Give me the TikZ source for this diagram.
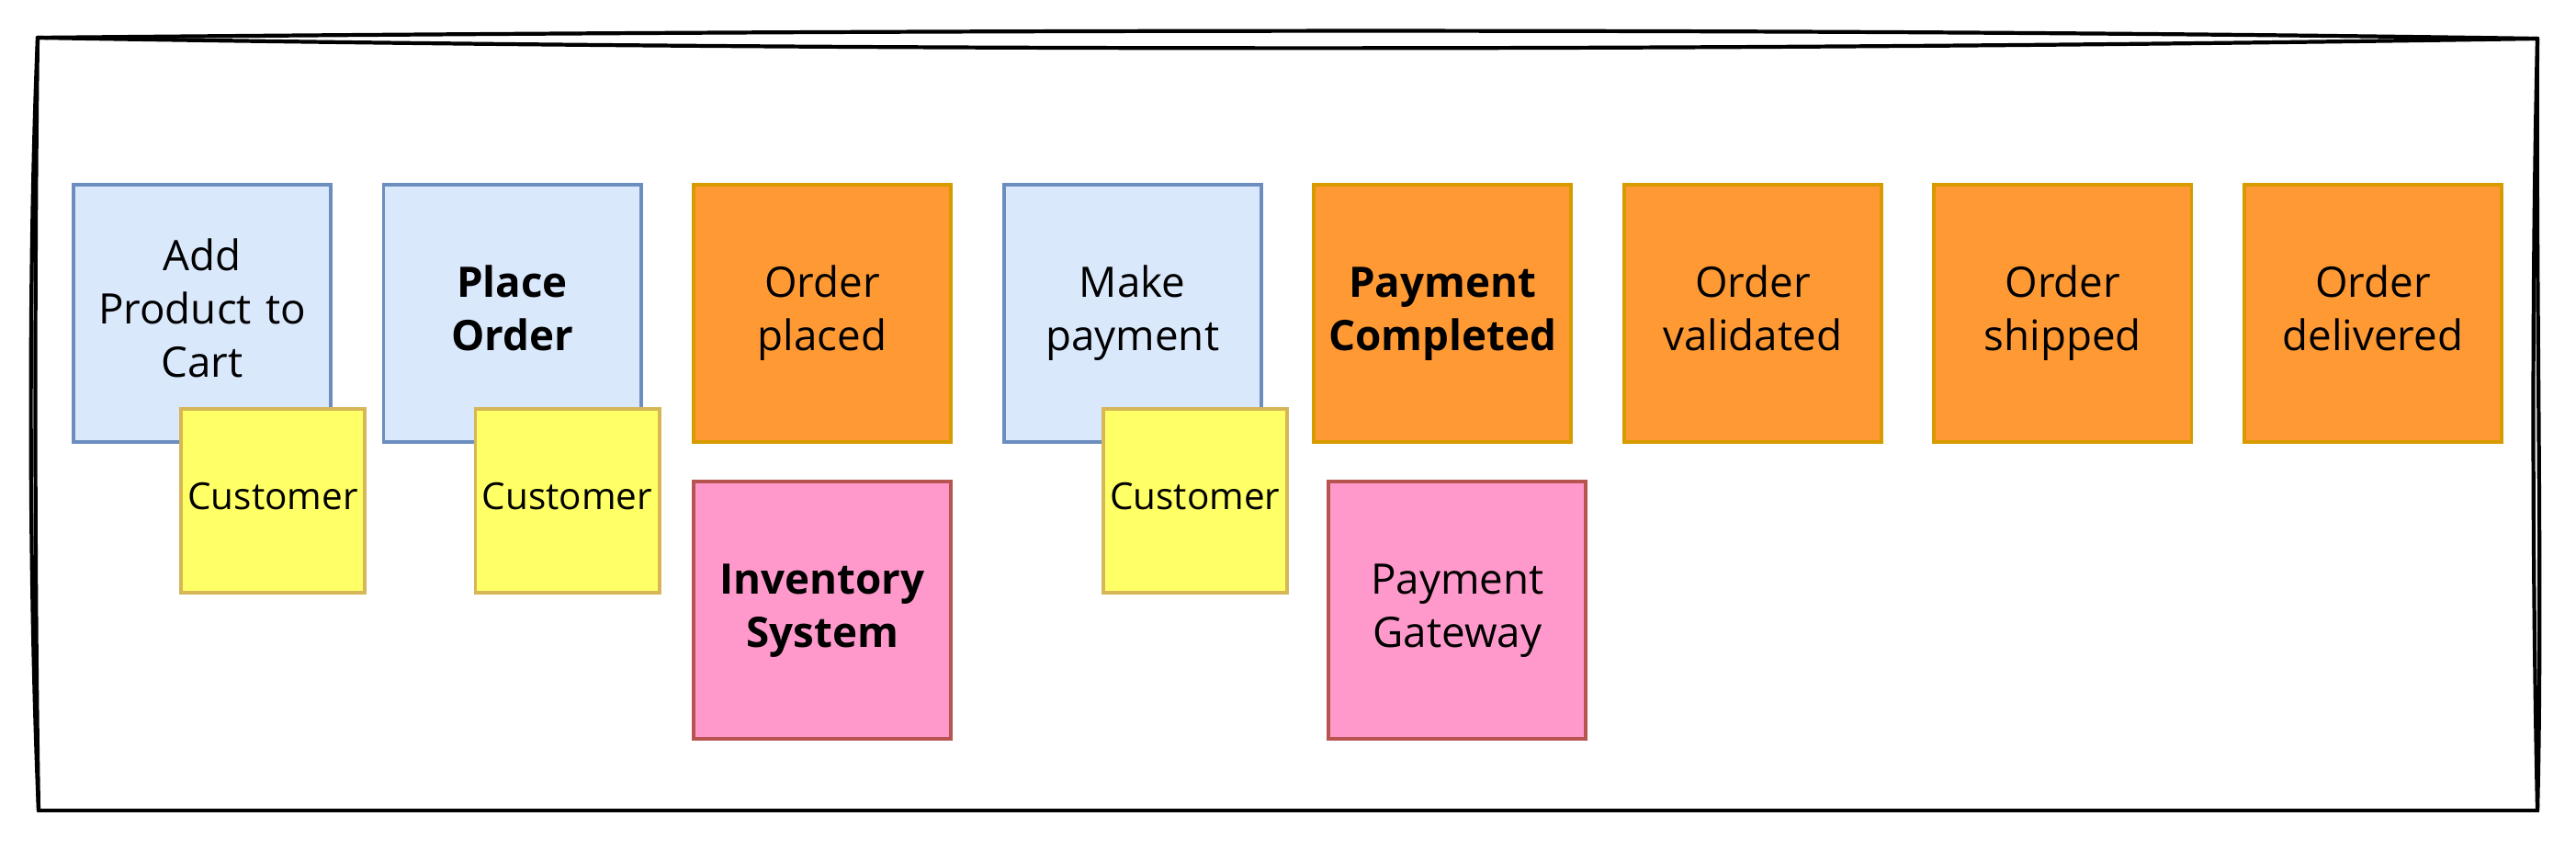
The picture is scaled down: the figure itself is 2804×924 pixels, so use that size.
\documentclass[tikz,border=0pt]{standalone}
\usepackage{fontspec}
\setmainfont{Open Sans}
\usepackage{xcolor}
\usetikzlibrary{positioning, calc}

\definecolor{cmdfill}{HTML}{DAE8FC}
\definecolor{cmdline}{HTML}{6C8EBF}
\definecolor{evtfill}{HTML}{FF9933}
\definecolor{evtline}{HTML}{D79B00}
\definecolor{actfill}{HTML}{FFFF66}
\definecolor{actline}{HTML}{D6B656}
\definecolor{sysfill}{HTML}{FF99CC}
\definecolor{sysline}{HTML}{B85450}

\begin{document}
\begin{tikzpicture}[x=0.01cm, y=-0.01cm, node distance=0.535cm,
    every node/.style={draw, line width=1.1pt, inner sep=0pt, align=center,
        font=\fontsize{13}{16.5}\selectfont,
        execute at begin node=\strut, execute at end node=\strut},
    strong/.style={font=\fontsize{13}{16.5}\selectfont\bfseries},
    card/.style={minimum size=2.8cm, text width=2.5cm},
    cmd/.style={card, fill=cmdfill, draw=cmdline},
    evt/.style={card, fill=evtfill, draw=evtline},
    sys/.style={card, fill=sysfill, draw=sysline},
    actor/.style={minimum size=2cm, fill=actfill, draw=actline,
        font=\fontsize{11.5}{14}\selectfont, anchor=north west},
    sketch/.style={line width=1.2pt, line cap=round, line join=round}]
    \useasboundingbox (0,0) rectangle (2804,924);

    % hand drawn frame
    \draw[sketch] (41,41) .. controls (900,33) and (1900,29) .. (2762,42);
    \draw[sketch] (41,41) .. controls (900,56) and (1900,56) .. (2762,42);
    \draw[sketch] (2762,42) .. controls (2756,300) and (2756,600) .. (2762,882);
    \draw[sketch] (2762,42) .. controls (2760,300) and (2768,650) .. (2762,882);
    \draw[sketch] (2762,882) -- (42,882);
    \draw[sketch] (42,882) .. controls (30,600) and (32,250) .. (41,41);
    \draw[sketch] (42,882) .. controls (37,600) and (38,250) .. (41,41);

    % timeline
    \node[cmd] (add) at (220,341) {Add\\Product to\\Cart};
    \node[cmd, strong, right=of add] (place) {Place\\Order};
    \node[evt, right=of place] (placed) {Order\\placed};
    \node[cmd, right=of placed] (pay) {Make\\payment};
    \node[evt, strong, right=of pay] (paid) {Payment\\Completed};
    \node[evt, right=of paid] (valid) {Order\\validated};
    \node[evt, right=of valid] (shipped) {Order\\shipped};
    \node[evt, right=of shipped] (delivered) {Order\\delivered};

    % actors and systems
    \node[actor] (who1) at ($(add.south west)+(117,-40)$) {Customer};
    \node[actor] (who2) at ($(place.south west)+(100,-40)$) {Customer};
    \node[actor] (who3) at ($(pay.south west)+(108,-40)$) {Customer};
    \node[sys, strong, below=0.39cm of placed] (inventory) {Inventory\\System};
    \node[sys, below=0.39cm of paid, xshift=0.16cm] (gateway) {Payment\\Gateway};
\end{tikzpicture}
\end{document}
